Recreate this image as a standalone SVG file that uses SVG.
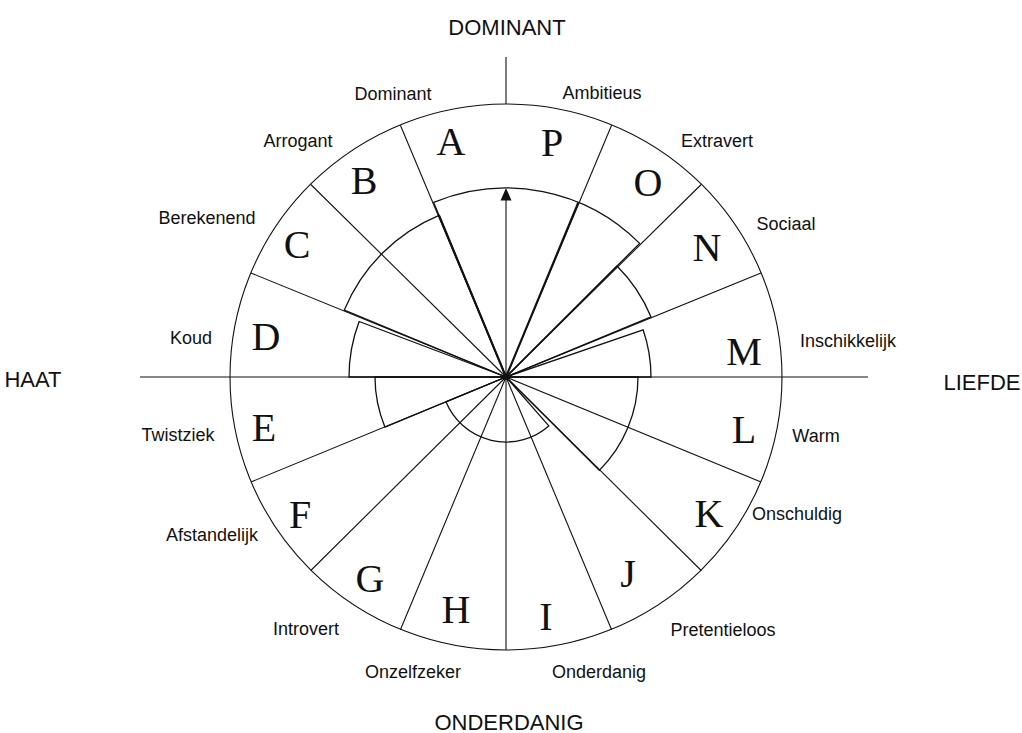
<svg xmlns="http://www.w3.org/2000/svg" width="1022" height="733" viewBox="0 0 1022 733">
<style>
.ln{stroke:#111;stroke-width:1.1;fill:none}
.wd{stroke:#111;stroke-width:1.3;fill:none;stroke-linejoin:miter}
.bd{stroke:#111;stroke-width:2.1;fill:none}
.lt{font-family:"Liberation Serif","Times New Roman",serif;font-size:40px;fill:#111;text-anchor:middle}
.sm{font-family:"Liberation Sans",Arial,sans-serif;font-size:18px;fill:#111;text-anchor:middle}
.bg{font-family:"Liberation Sans",Arial,sans-serif;font-size:22px;fill:#111;text-anchor:middle}
</style>
<rect width="1022" height="733" fill="#fff"/>
<g id="connectors">
<ellipse class="ln" cx="506" cy="377" rx="276" ry="273"/>
<line class="ln" x1="140" y1="377" x2="868" y2="377"/>
<line class="ln" x1="506" y1="57" x2="506" y2="104"/>
<line class="ln" x1="506" y1="377" x2="506" y2="650"/>
<line class="ln" x1="506" y1="377" x2="761.0" y2="273.0"/>
<line class="ln" x1="506" y1="377" x2="701.2" y2="184.5"/>
<line class="ln" x1="506" y1="377" x2="611.6" y2="125.3"/>
<line class="ln" x1="506" y1="377" x2="400.4" y2="125.3"/>
<line class="ln" x1="506" y1="377" x2="310.8" y2="184.5"/>
<line class="ln" x1="506" y1="377" x2="251.0" y2="273.0"/>
<line class="ln" x1="506" y1="377" x2="251.0" y2="482.0"/>
<line class="ln" x1="506" y1="377" x2="310.8" y2="570.5"/>
<line class="ln" x1="506" y1="377" x2="400.4" y2="629.7"/>
<line class="ln" x1="506" y1="377" x2="611.6" y2="629.7"/>
<line class="ln" x1="506" y1="377" x2="701.2" y2="570.5"/>
<line class="ln" x1="506" y1="377" x2="761.0" y2="482.0"/>
<path class="wd" d="M506,377 L639.64,243.36 A189,189 0 0 0 433.67,202.39 Z"/>
<path class="wd" d="M506,377 L439.03,215.32 A175,175 0 0 0 344.32,310.03 Z"/>
<path class="wd" d="M506,377 L359.14,321.51 A157,157 0 0 0 349,377 Z"/>
<path class="wd" d="M506,377 L375,377 A131,131 0 0 0 384.97,427.13 Z"/>
<path class="wd" d="M506,377 L445.95,401.87 A65,65 0 0 0 548.81,425.91 Z"/>
<path class="wd" d="M506,377 L599.34,470.34 A132,132 0 0 0 638,377 Z"/>
<path class="wd" d="M506,377 L651,377 A145,145 0 0 0 643.10,329.79 Z"/>
<path class="wd" d="M506,377 L651.05,316.92 A157,157 0 0 0 617.02,265.98 Z"/>
<line class="bd" x1="506" y1="377" x2="578.33" y2="202.39"/>
<line class="bd" x1="506" y1="377" x2="439.03" y2="215.32"/>
<line class="ln" x1="506" y1="377" x2="506" y2="199"/>
<polygon points="506,188 500.5,200.5 511.5,200.5" fill="#111"/>
<circle cx="506" cy="377" r="3" fill="#111"/>
</g>
<g id="letters">
<text class="lt" x="451" y="155">A</text>
<text class="lt" x="552" y="156">P</text>
<text class="lt" x="648" y="196">O</text>
<text class="lt" x="707" y="261">N</text>
<text class="lt" x="744" y="365">M</text>
<text class="lt" x="744" y="443">L</text>
<text class="lt" x="709" y="527">K</text>
<text class="lt" x="628" y="587">J</text>
<text class="lt" x="546" y="630">I</text>
<text class="lt" x="456" y="623">H</text>
<text class="lt" x="370" y="592">G</text>
<text class="lt" x="300" y="528">F</text>
<text class="lt" x="264" y="441">E</text>
<text class="lt" x="266" y="350">D</text>
<text class="lt" x="297" y="258">C</text>
<text class="lt" x="364" y="194">B</text>
</g>
<g id="labels">
<text class="sm" x="393" y="100">Dominant</text>
<text class="sm" x="602" y="99">Ambitieus</text>
<text class="sm" x="298" y="147">Arrogant</text>
<text class="sm" x="717" y="147">Extravert</text>
<text class="sm" x="207" y="224">Berekenend</text>
<text class="sm" x="786" y="230">Sociaal</text>
<text class="sm" x="191" y="344">Koud</text>
<text class="sm" x="848" y="347">Inschikkelijk</text>
<text class="sm" x="178" y="441">Twistziek</text>
<text class="sm" x="816" y="442">Warm</text>
<text class="sm" x="212" y="541">Afstandelijk</text>
<text class="sm" x="797" y="520">Onschuldig</text>
<text class="sm" x="306" y="635">Introvert</text>
<text class="sm" x="723" y="636">Pretentieloos</text>
<text class="sm" x="413" y="678">Onzelfzeker</text>
<text class="sm" x="599" y="678">Onderdanig</text>
</g>
<g id="axes-labels">
<text class="bg" x="507" y="35">DOMINANT</text>
<text class="bg" x="33" y="387">HAAT</text>
<text class="bg" x="982" y="390">LIEFDE</text>
<text class="bg" x="509" y="730">ONDERDANIG</text>
</g>
</svg>
